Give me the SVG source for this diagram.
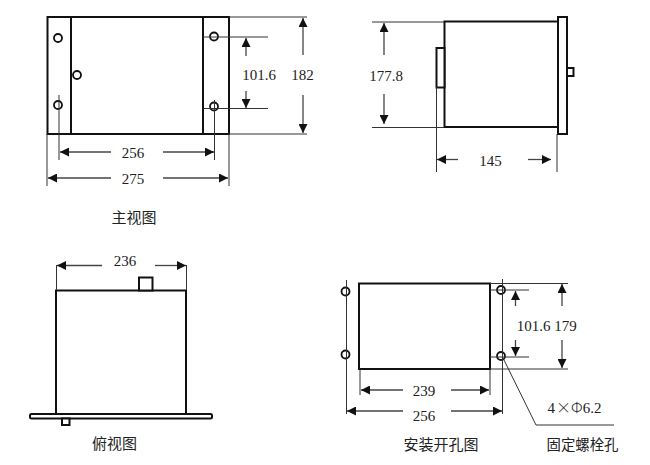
<svg xmlns="http://www.w3.org/2000/svg" width="650" height="465" viewBox="0 0 650 465">
<style>
.o{fill:#fff;stroke:#111;stroke-width:2}
.h{fill:#fff;stroke:#111;stroke-width:1.8}
.l{fill:none;stroke:#333;stroke-width:1}
.a{fill:none;stroke:#444;stroke-width:1.3;marker-end:url(#ah)}
.t{font-family:"Liberation Serif",serif;font-size:15px;fill:#222;text-anchor:middle}
.c{font-family:"Noto Sans CJK SC",sans-serif;font-size:15px;fill:#222;text-anchor:middle}
.x{font-family:"Noto Sans CJK SC",sans-serif;font-weight:300}
</style>
<defs>
<marker id="ah" markerUnits="userSpaceOnUse" markerWidth="10" markerHeight="9" refX="9" refY="4.500" orient="auto"><path d="M0 0L9 4.500L0 9Z" fill="#111"/></marker>
</defs>
<rect width="650" height="465" fill="#fff"/>
<g id="front-view">
<rect class="o" x="47.500" y="17" width="181.500" height="117"/>
<path class="o" d="M71 17V134M203 17V134"/>
<circle class="h" cx="58" cy="38" r="4"/>
<circle class="h" cx="77" cy="75" r="4"/>
<circle class="h" cx="58" cy="105" r="4"/>
<circle class="h" cx="214" cy="36.500" r="4"/>
<circle class="h" cx="214" cy="106.500" r="4"/>
<text class="c" x="134" y="223">主视图</text>
</g>
<g id="side-view">
<rect class="o" x="444.500" y="21.500" width="113.500" height="105.500"/>
<rect class="o" x="558" y="17" width="9" height="117"/>
<rect class="o" x="567" y="68" width="6.500" height="8"/>
<rect class="o" x="436.500" y="48" width="8" height="39.500"/>
</g>
<g id="top-view">
<rect class="o" x="56" y="290.500" width="130" height="123.500"/>
<rect class="o" x="139" y="277.500" width="13.500" height="13"/>
<rect class="o" x="30" y="414" width="182" height="4.500" rx="1.500"/>
<rect class="o" x="62" y="418.500" width="7.500" height="6.500"/>
<text class="c" x="114.500" y="449">俯视图</text>
</g>
<g id="cutout-view">
<rect class="o" x="359" y="283.500" width="131" height="85.500"/>
<circle class="h" cx="345.500" cy="291.500" r="4"/>
<circle class="h" cx="345.500" cy="354.500" r="4"/>
<circle class="h" cx="501" cy="290" r="4"/>
<circle class="h" cx="501" cy="356" r="4"/>
<text class="c" x="441" y="450">安装开孔图</text>
</g>
<g id="connectors">
<path class="l" d="M203 37H268M203 108.500H268M229 17H307M229 134H307M59 95V160M214.500 100V160M47 134V186M229 134V186"/>
<path class="l" d="M372 22H444M372 127.500H444M436.500 87V172M557 134V172"/>
<path class="l" d="M56.500 265V290M186.500 265V290"/>
<path class="l" d="M346.500 280V414M502.500 279V414M490 283.500H568M490 369H568M490 290H529M490 357H529M360 369V395M490 369V395M503 358L536 425H614"/>
<path class="a" d="M246 56V38"/>
<path class="a" d="M246 91V108"/>
<path class="a" d="M303 55V18"/>
<path class="a" d="M303 95V133"/>
<path class="a" d="M111 152H60"/>
<path class="a" d="M163 152H214"/>
<path class="a" d="M111 178H48"/>
<path class="a" d="M163 178H228"/>
<path class="a" d="M384 55V23"/>
<path class="a" d="M384 94V124"/>
<path class="a" d="M458 159.500H437"/>
<path class="a" d="M528 159.500H551"/>
<path class="a" d="M102 265.500H57"/>
<path class="a" d="M155 265.500H186"/>
<path class="a" d="M515.500 306V291"/>
<path class="a" d="M515.500 340V356"/>
<path class="a" d="M562 306V284"/>
<path class="a" d="M562 340V368"/>
<path class="a" d="M403 390H361"/>
<path class="a" d="M451 390H489"/>
<path class="a" d="M403 411H347"/>
<path class="a" d="M451 411H502"/>
</g>
<g id="labels">
<text class="t" x="259" y="80">101.6</text>
<text class="t" x="302.500" y="80">182</text>
<text class="t" x="133" y="158">256</text>
<text class="t" x="133" y="184">275</text>
<text class="t" x="386" y="81">177.8</text>
<text class="t" x="490.500" y="166">145</text>
<text class="t" x="125" y="266">236</text>
<text class="t" x="533.500" y="331">101.6</text>
<text class="t" x="565.500" y="331">179</text>
<text class="t" x="424" y="396">239</text>
<text class="t" x="424" y="421">256</text>
<text class="t" x="574.500" y="413">4<tspan class="x" dx="1">×</tspan><tspan class="x">Φ</tspan>6.2</text>
<text class="c" x="582.500" y="450" style="font-size:14.400px">固定螺栓孔</text>
</g>
</svg>
